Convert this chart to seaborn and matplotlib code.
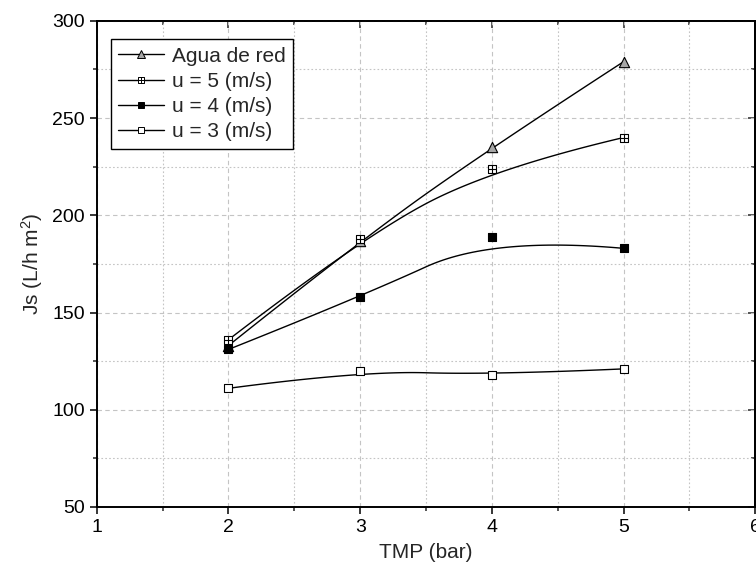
import numpy as np
import matplotlib
matplotlib.use('Agg')
import matplotlib.pyplot as plt
import seaborn as sns
from matplotlib.path import Path
from matplotlib.lines import Line2D
from matplotlib.ticker import MultipleLocator

# data
tmp = [2, 3, 4, 5]
agua_red = [133, 187, 235, 279]
u5 = [136, 188, 224, 240]
u4 = [131, 158, 189, 183]
u3 = [111, 120, 118, 121]
labels = ['Agua de red', 'u = 5 (m/s)', 'u = 4 (m/s)', 'u = 3 (m/s)']


def bspline(x, y, n=40):
    # quadratic clamped B-spline (Origin "B-Spline" connect): passes through end points only
    p = np.column_stack([x, y]).astype(float)
    k = len(p)
    segs = []
    for i in range(1, k - 1):
        a = p[0] if i == 1 else (p[i - 1] + p[i]) / 2
        c = p[-1] if i == k - 2 else (p[i] + p[i + 1]) / 2
        t = np.linspace(0, 1, n)[:, None]
        seg = (1 - t) ** 2 * a + 2 * t * (1 - t) * p[i] + t ** 2 * c
        segs.append(seg if i == 1 else seg[1:])
    out = np.vstack(segs)
    return out[:, 0], out[:, 1]


# square with a cross inside
plus_square = Path(
    [(-1, -1), (1, -1), (1, 1), (-1, 1), (-1, -1), (0, -1), (0, 1), (-1, 0), (1, 0)],
    [Path.MOVETO, Path.LINETO, Path.LINETO, Path.LINETO, Path.CLOSEPOLY,
     Path.MOVETO, Path.LINETO, Path.MOVETO, Path.LINETO])

sns.set_style('ticks')
plt.rcParams['font.family'] = ['Liberation Sans', 'DejaVu Sans']
plt.rcParams['mathtext.default'] = 'regular'

fig = plt.figure(figsize=(7.56, 5.80), dpi=100)
ax = fig.add_axes([0.128, 0.126, 0.871, 0.838])

series = [
    (agua_red, '^', '#a6a6a6', 55),
    (u5, plus_square, 'white', 30),
    (u4, 's', 'black', 30),
    (u3, 's', 'white', 30),
]

handles = []
for (vals, m, face, s), lab in zip(series, labels):
    sx, sy = bspline(tmp, vals)
    sns.lineplot(x=sx, y=sy, color='black', lw=1.0, sort=False, estimator=None, ax=ax, zorder=2)
    sns.scatterplot(x=tmp, y=vals, marker=m, s=s, color=face, edgecolor='black',
                    linewidth=0.8, ax=ax, zorder=3)
    handles.append(Line2D([], [], color='black', lw=1.0, marker=m, markersize=6 if m == '^' else 5,
                          markerfacecolor=face, markeredgecolor='black', markeredgewidth=0.7))

ax.set_xlim(1, 6)
ax.set_ylim(50, 300)
ax.xaxis.set_major_locator(MultipleLocator(1))
ax.xaxis.set_minor_locator(MultipleLocator(0.5))
ax.yaxis.set_major_locator(MultipleLocator(50))
ax.yaxis.set_minor_locator(MultipleLocator(25))

ax.grid(which='major', color='#c4c4c4', ls=(0, (4, 3)), lw=0.8)
ax.grid(which='minor', color='#c4c4c4', ls=(0, (1.5, 2)), lw=0.8)
ax.set_axisbelow(True)

for sp in ax.spines.values():
    sp.set_linewidth(1.4)
    sp.set_color('black')

ax.tick_params(which='major', direction='out', length=5, width=1.1, labelsize=14, colors='black')
ax.tick_params(which='minor', direction='out', length=3, width=1.1)

# top / right ticks pointing inwards
top = ax.secondary_xaxis('top')
top.xaxis.set_major_locator(MultipleLocator(1))
top.xaxis.set_minor_locator(MultipleLocator(0.5))
top.tick_params(which='major', direction='in', length=5, width=1.1, labeltop=False)
top.tick_params(which='minor', direction='in', length=3, width=1.1)
right = ax.secondary_yaxis('right')
right.yaxis.set_major_locator(MultipleLocator(50))
right.yaxis.set_minor_locator(MultipleLocator(25))
right.tick_params(which='major', direction='in', length=5, width=1.1, labelright=False)
right.tick_params(which='minor', direction='in', length=3, width=1.1)
for sec in (top, right):
    for sp in sec.spines.values():
        sp.set_linewidth(1.4)

ax.set_xlabel('TMP (bar)', fontsize=15, labelpad=5)
ax.set_ylabel('Js (L/h m$^{2}$)', fontsize=15, labelpad=5)

leg = ax.legend(handles, labels, loc='upper left', bbox_to_anchor=(0.021, 0.962),
                borderaxespad=0, fontsize=15, frameon=True, fancybox=False,
                edgecolor='black', framealpha=1, handlelength=2.2, handletextpad=0.4,
                labelspacing=0.3, borderpad=0.35)
leg.get_frame().set_linewidth(1.0)

fig.savefig('out.png', dpi=100)
